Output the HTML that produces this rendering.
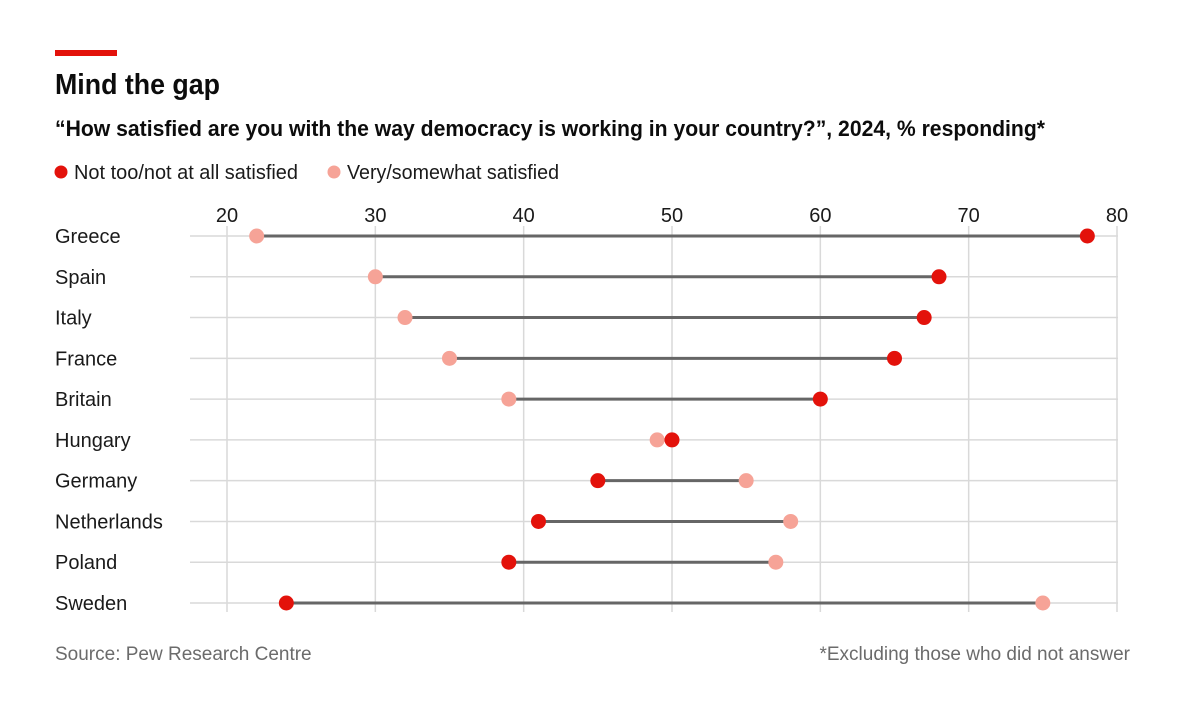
<!DOCTYPE html>
<html><head><meta charset="utf-8"><style>
body{margin:0;background:#fff}
svg{display:block;font-family:"Liberation Sans Narrow","Liberation Sans",sans-serif}
</style></head><body>
<svg id="c" width="1200" height="714" viewBox="0 0 1200 714">
<rect x="55" y="50" width="62" height="6" fill="#e3120b"/>
<text x="55" y="94" font-size="29" font-weight="bold" fill="#0c0c0c" textLength="165" lengthAdjust="spacingAndGlyphs">Mind the gap</text>
<text x="55" y="136" font-size="22" font-weight="bold" fill="#0c0c0c" textLength="990" lengthAdjust="spacingAndGlyphs">“How satisfied are you with the way democracy is working in your country?”, 2024, % responding*</text>
<g>
<circle cx="61" cy="172" r="6.5" fill="#e3120b"/>
<text x="74" y="179" font-size="20" fill="#1a1a1a" textLength="224" lengthAdjust="spacingAndGlyphs">Not too/not at all satisfied</text>
<circle cx="334" cy="172" r="6.5" fill="#f6a397"/>
<text x="347" y="179" font-size="20" fill="#1a1a1a" textLength="212" lengthAdjust="spacingAndGlyphs">Very/somewhat satisfied</text>
</g>
<g id="plot"></g>
<text x="55" y="660" font-size="19" fill="#6b6b6b">Source: Pew Research Centre</text>
<text x="1130" y="660" font-size="19" fill="#6b6b6b" text-anchor="end">*Excluding those who did not answer</text>
</svg>
<script>
const countries=["Greece","Spain","Italy","France","Britain","Hungary","Germany","Netherlands","Poland","Sweden"];
const notSatisfied=[78,68,67,65,60,50,45,41,39,24];
const satisfied=[22,30,32,35,39,49,55,58,57,75];
const ticks=[20,30,40,50,60,70,80];
const NS="http://www.w3.org/2000/svg";
const g=document.getElementById("plot");
const x=v=>227+(v-20)*(1117-227)/60;
const y=i=>236+i*(603-236)/9;
function mk(t,a){const e=document.createElementNS(NS,t);for(const k in a)e.setAttribute(k,a[k]);g.appendChild(e);return e;}
ticks.forEach(t=>{
 const l=mk("line",{x1:x(t),x2:x(t),y1:226,y2:612,stroke:"#d9d9d9","stroke-width":1.5});
 
 
 const tx=mk("text",{x:x(t),y:222,"font-size":20,"text-anchor":"middle",fill:"#1a1a1a"});
 tx.textContent=t;
 
 
});
countries.forEach((c,i)=>{
 const yy=y(i);
 const gl=mk("line",{x1:190,x2:1118,y1:yy,y2:yy,stroke:"#d9d9d9","stroke-width":1.5});
 
 
 const lb=mk("text",{x:55,y:yy+7,"font-size":20,fill:"#1a1a1a"});
 lb.textContent=c;
 
 
 const bar=mk("line",{x1:x(notSatisfied[i]),x2:x(satisfied[i]),y1:yy,y2:yy,stroke:"#666","stroke-width":3});
 
 
 const p=mk("circle",{cx:x(satisfied[i]),cy:yy,r:7.5,fill:"#f6a397"});
 
 
 const r=mk("circle",{cx:x(notSatisfied[i]),cy:yy,r:7.5,fill:"#e3120b"});
 
 
});
</script>
</body></html>
